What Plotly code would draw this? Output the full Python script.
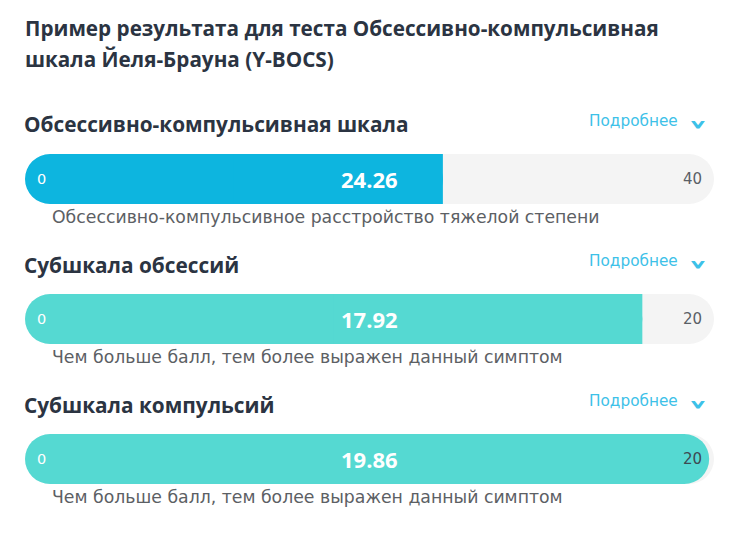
import plotly.graph_objects as go

W, H = 737, 534
OFF = 8  # browser body margin; layout below uses window pixel coordinates

main_title = ["Пример результата для теста Обсессивно-компульсивная",
              "шкала Йеля-Брауна (Y-BOCS)"]
scale_names = ["Обсессивно-компульсивная шкала", "Субшкала обсессий", "Субшкала компульсий"]
scores = [24.26, 17.92, 19.86]
scale_max = [40, 20, 20]
notes = ["Обсессивно-компульсивное расстройство тяжелой степени",
         "Чем больше балл, тем более выражен данный симптом",
         "Чем больше балл, тем более выражен данный симптом"]
more_label = "Подробнее"

fill_colors = ["#0DB5DF", "#55D9D2", "#55D9D2"]
max_label_colors = ["#5a5f66", "#5a5f66", "#3d4a52"]
track_color = "#F4F4F4"
dark = "#2B3442"
gray = "#5c6064"
blue = "#3DC1E8"
BOLD = "Open Sans"
REG = "DejaVu Sans"

bar_left, bar_right = 25, 714
bar_tops = [154, 294, 434]
bar_h = 50
header_y = [124, 265, 405]
more_y = [121, 261, 401]
note_y = [217, 357, 497]
R = bar_h / 2

FW, FH = W - OFF, H - OFF


def px(x):
    return (x - OFF) / FW


def py(y):
    return 1 - (y - OFF) / FH


fig = go.Figure()
layout = dict(
    width=FW, height=FH, margin=dict(l=0, r=0, t=0, b=0),
    paper_bgcolor="white", plot_bgcolor="rgba(0,0,0,0)",
    showlegend=False, barmode="overlay",
)
annotations = []

bar_px = bar_right - bar_left
for i in range(3):
    k = "" if i == 0 else str(i + 1)
    xa, ya = "x" + k, "y" + k
    m, v = scale_max[i], scores[i]
    common = dict(y=[0], orientation="h", width=1, xaxis=xa, yaxis=ya,
                  hoverinfo="skip", showlegend=False)
    # track: rounded pill
    fig.add_trace(go.Bar(x=[m], base=[0], marker=dict(color=track_color, cornerradius=R, line=dict(width=0)), **common))
    # fill: rounded pill, squared at its right end unless it reaches the track's end
    fig.add_trace(go.Bar(x=[v], base=[0], marker=dict(color=fill_colors[i], cornerradius=R, line=dict(width=0)), **common))
    near_end = v >= m * (1 - R / bar_px)
    if not near_end:
        fig.add_trace(go.Bar(x=[v / 2], base=[v / 2], marker=dict(color=fill_colors[i], cornerradius=0, line=dict(width=0)), **common))

    top = bar_tops[i]
    layout["xaxis" + k] = dict(domain=[px(bar_left), px(bar_right)], range=[0, m],
                               visible=False, fixedrange=True, anchor=ya)
    layout["yaxis" + k] = dict(domain=[py(top + bar_h), py(top)], range=[-0.5, 0.5],
                               visible=False, fixedrange=True, anchor=xa)

    # bar labels
    annotations.append(dict(xref=xa, yref=ya, x=0, y=0, text="0", showarrow=False,
                            xanchor="left", xshift=10, font=dict(family=REG, size=14.5, color="white")))
    annotations.append(dict(xref=xa, yref=ya, x=m / 2, y=0, text="<b>%.2f</b>" % v, showarrow=False,
                            xanchor="center", font=dict(family=BOLD, size=22, color="white")))
    annotations.append(dict(xref=xa, yref=ya, x=m, y=0, text=str(m), showarrow=False,
                            xanchor="right", xshift=-10, font=dict(family=REG, size=15, color=max_label_colors[i])))

    # header, more link, chevron, note
    annotations.append(dict(xref="paper", yref="paper", x=px(22), y=py(header_y[i]),
                            text="<b>%s</b>" % scale_names[i], showarrow=False,
                            xanchor="left", yanchor="middle", font=dict(family=BOLD, size=20.8, color=dark)))
    annotations.append(dict(xref="paper", yref="paper", x=px(680), y=py(more_y[i]),
                            text=more_label, showarrow=False,
                            xanchor="right", yanchor="middle", font=dict(family=REG, size=15.3, color=blue)))
    annotations.append(dict(xref="paper", yref="paper", x=px(700), y=py(more_y[i] + 3),
                            text="<b>›</b>", textangle=90, showarrow=False,
                            xanchor="center", yanchor="middle", font=dict(family="DejaVu Sans", size=31, color=blue)))
    annotations.append(dict(xref="paper", yref="paper", x=px(50), y=py(note_y[i]),
                            text=notes[i], showarrow=False,
                            xanchor="left", yanchor="middle", font=dict(family=REG, size=17.3, color=gray)))

for j, line in enumerate(main_title):
    annotations.append(dict(xref="paper", yref="paper", x=px(23), y=py(28 + 31 * j),
                            text="<b>%s</b>" % line, showarrow=False,
                            xanchor="left", yanchor="middle", font=dict(family=BOLD, size=20.7, color=dark)))

layout["annotations"] = annotations
fig.update_layout(**layout)
fig.write_html("out.html")
